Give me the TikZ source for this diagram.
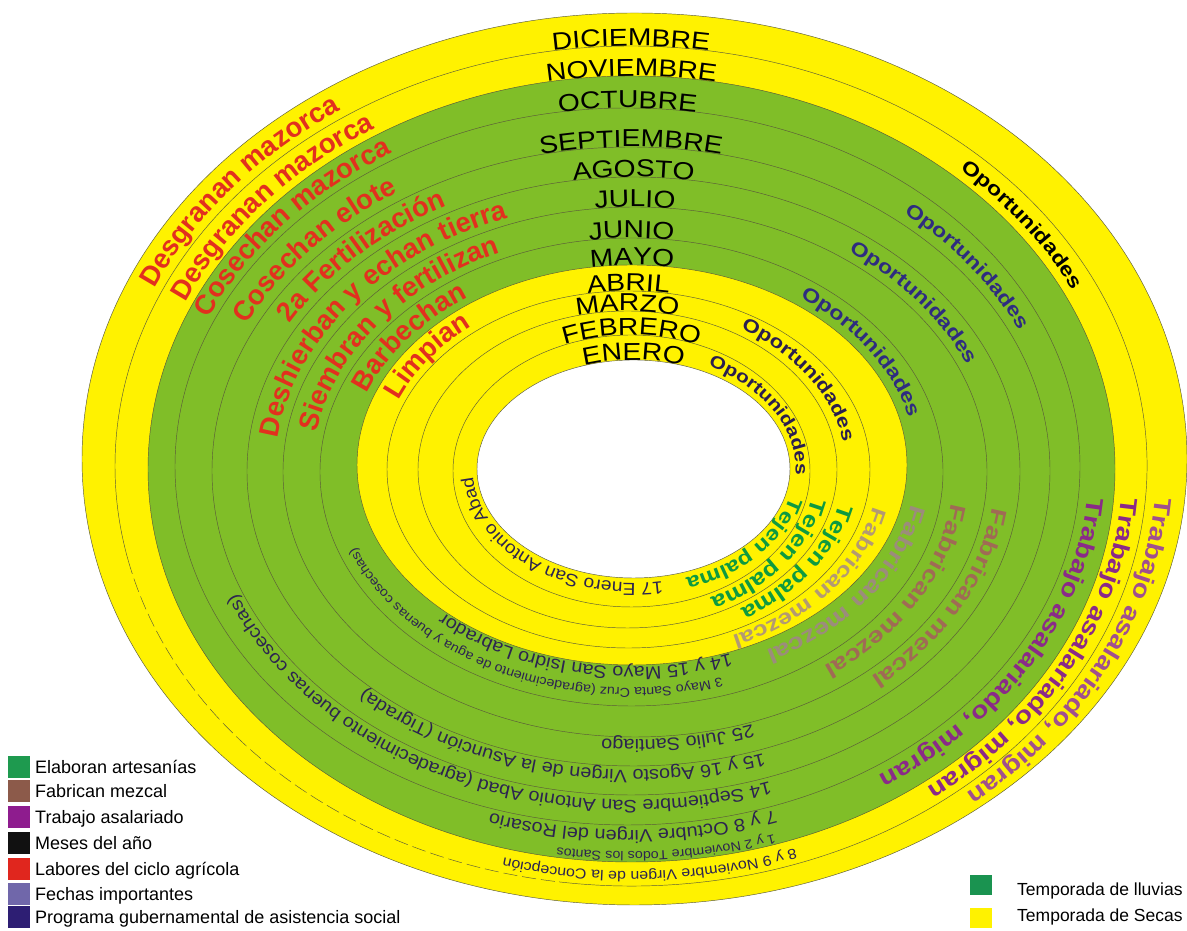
\documentclass[tikz,border=0pt]{standalone}
\usepackage{fontspec}
\setmainfont{Liberation Sans}
\usetikzlibrary{decorations.text}
\newfontfamily\fM{Liberation Sans}[FakeStretch=1.15]
\newfontfamily\fX{Liberation Sans}[FakeStretch=1.1]
\newfontfamily\fB{Liberation Sans}[FakeStretch=1.2]
\newfontfamily\fW{Liberation Sans}[FakeStretch=1.25]
\definecolor{ylw}{HTML}{FFF200}
\definecolor{grn}{HTML}{80BE28}
\definecolor{ringc}{HTML}{5A5A3A}
\definecolor{labred}{HTML}{E2301E}
\definecolor{opdark}{HTML}{2A1E50}
\definecolor{opnavy}{HTML}{2E2C80}
\definecolor{palma}{HTML}{0E9A40}
\definecolor{mezA}{HTML}{B39A72}
\definecolor{mezB}{HTML}{9C8C7C}
\definecolor{mezC}{HTML}{A06A55}
\definecolor{trabA}{HTML}{8A2A88}
\definecolor{trabB}{HTML}{A0508E}
\definecolor{fecha}{HTML}{2C2450}
\definecolor{lgA}{HTML}{1E9A4F}
\definecolor{lgB}{HTML}{8C5A4A}
\definecolor{lgC}{HTML}{8E1C8E}
\definecolor{lgD}{HTML}{111111}
\definecolor{lgE}{HTML}{E0261E}
\definecolor{lgF}{HTML}{7067AA}
\definecolor{lgG}{HTML}{2D1E73}
\definecolor{lgR}{HTML}{1A9350}
% ring boundaries (image pixels): left, right, top, bottom for boundary 0..12
\def\myL{{477,453,418,387,357,320,283,247,212,175,148,115,82}}
\def\myR{{790,810,837,870,907,943,987,1020,1050,1080,1115,1147,1187}}
\def\myT{{360,335,311,291,265,238,207,177,147,108,76,46,13}}
\def\myB{{578,607,628,648,665,706,737,766,795,825,862,886,905}}
\newcommand\ellat[1]{%
  \pgfmathtruncatemacro\ei{max(0,min(floor(#1),11))}%
  \pgfmathtruncatemacro\ej{\ei+1}%
  \pgfmathsetmacro\ef{(#1)-\ei}%
  \pgfmathsetmacro\eL{\myL[\ei]+\ef*(\myL[\ej]-\myL[\ei])}%
  \pgfmathsetmacro\eR{\myR[\ei]+\ef*(\myR[\ej]-\myR[\ei])}%
  \pgfmathsetmacro\eT{\myT[\ei]+\ef*(\myT[\ej]-\myT[\ei])}%
  \pgfmathsetmacro\eB{\myB[\ei]+\ef*(\myB[\ej]-\myB[\ei])}%
  \pgfmathsetmacro\ecx{(\eL+\eR)/2}%
  \pgfmathsetmacro\ecy{(\eT+\eB)/2}%
  \pgfmathsetmacro\ea{(\eR-\eL)/2}%
  \pgfmathsetmacro\eb{(\eB-\eT)/2}%
}
% text centred on an elliptic arc from angle #2 down to angle #3
\newcommand\arctext[5]{%
  \ellat{#1}%
  \pgfmathsetmacro\sx{\ecx+\ea*cos(#2)}%
  \pgfmathsetmacro\sy{931-\ecy+\eb*sin(#2)}%
  \path[decorate,decoration={text along path,text align=center,text={|#4|#5}}]
    (\sx,\sy) arc[start angle=#2,end angle=#3,x radius=\ea pt,y radius=\eb pt];
}
% ring arc between two angles, with a given style
\newcommand\ringarc[4]{%
  \ellat{#1}%
  \pgfmathsetmacro\sx{\ecx+\ea*cos(#2)}%
  \pgfmathsetmacro\sy{931-\ecy+\eb*sin(#2)}%
  \draw[ringc,line width=0.45pt,#4] (\sx,\sy) arc[start angle=#2,end angle=#3,x radius=\ea pt,y radius=\eb pt];
}
% text centred between two image points, extended by equal arc lengths
\newcommand\ptext[7]{%
  \ellat{#1}%
  \pgfmathsetmacro\tP{atan2((\ecy-(#3))/\eb,((#2)-\ecx)/\ea)}%
  \pgfmathsetmacro\tQ{atan2((\ecy-(#5))/\eb,((#4)-\ecx)/\ea)}%
  \pgfmathsetmacro\tQ{\tQ>\tP ? \tQ-360 : \tQ}%
  \pgfmathsetmacro\rb{\eb/\ea}%
  \pgfmathsetmacro\vP{\ea*sqrt(sin(\tP)^2+(\rb*cos(\tP))^2)}%
  \pgfmathsetmacro\vQ{\ea*sqrt(sin(\tQ)^2+(\rb*cos(\tQ))^2)}%
  \pgfmathsetmacro\tS{\tP+80/\vP*57.2958}%
  \pgfmathsetmacro\tE{\tQ-80/\vQ*57.2958}%
  \arctext{#1}{\tS}{\tE}{#6}{#7}%
}
\newcommand\FMon{\fM\fontsize{24.5}{24.5}\selectfont\color{black}}
\newcommand\FRed{\bfseries\fontsize{27.5}{27.5}\selectfont\color{labred}}
\newcommand\FOpA{\fB\bfseries\fontsize{17.5}{17.5}\selectfont\color{opdark}}
\newcommand\FOpB{\fB\bfseries\fontsize{18.5}{18.5}\selectfont\color{opdark}}
\newcommand\FOpC{\fB\bfseries\fontsize{19.5}{19.5}\selectfont\color{opnavy}}
\newcommand\FOpD{\fB\bfseries\fontsize{19.5}{19.5}\selectfont\color{black}}
\newcommand\FPalA{\fB\bfseries\fontsize{20}{20}\selectfont\color{palma}}
\newcommand\FPal{\fB\bfseries\fontsize{21.5}{21.5}\selectfont\color{palma}}
\newcommand\FMzA{\fW\bfseries\fontsize{20.5}{20.5}\selectfont\color{mezA}}
\newcommand\FMzB{\fW\bfseries\fontsize{22}{22}\selectfont\color{mezB}}
\newcommand\FMzC{\fW\bfseries\fontsize{22}{22}\selectfont\color{mezC}}
\newcommand\FTrA{\fB\bfseries\fontsize{23.75}{23.75}\selectfont\color{trabA}}
\newcommand\FTrB{\fB\bfseries\fontsize{23.75}{23.75}\selectfont\color{trabB}}
\newcommand\FDat{\fX\fontsize{18}{18}\selectfont\color{fecha}}
\newcommand\FDatA{\fX\fontsize{17.5}{17.5}\selectfont\color{fecha}}
\newcommand\FDsm{\fX\fontsize{13}{13}\selectfont\color{fecha}}
\newcommand\FDmd{\fX\fontsize{14.5}{14.5}\selectfont\color{fecha}}
\newcommand\legsq[4]{%
  \fill[#2] (8,931-#3-11) rectangle (30,931-#3+11);
  \node[anchor=base west,font=\fontsize{18}{18}\selectfont,inner sep=0pt] (#1) at (35,931-#3-6.5) {#4};
}
\begin{document}
\begin{tikzpicture}[x=1pt,y=1pt]
\useasboundingbox (0,0) rectangle (1187,931);
\fill[white] (0,0) rectangle (1187,931);
% season fills
\ellat{12}\fill[ylw] (\ecx,931-\ecy) ellipse[x radius=\ea pt,y radius=\eb pt];
\ellat{10}\fill[grn] (\ecx,931-\ecy) ellipse[x radius=\ea pt,y radius=\eb pt];
\ellat{4}\fill[ylw] (\ecx,931-\ecy) ellipse[x radius=\ea pt,y radius=\eb pt];
\ellat{0}\fill[white] (\ecx,931-\ecy) ellipse[x radius=\ea pt,y radius=\eb pt];
% month ring lines
\foreach \i in {0,...,10,12}{%
  \ellat{\i}\draw[ringc,line width=0.45pt] (\ecx,931-\ecy) ellipse[x radius=\ea pt,y radius=\eb pt];
}
\ringarc{11}{262}{553}{}
\ringarc{11}{193}{262}{dash pattern=on 14pt off 5pt}
% months
\arctext{0}{130}{50}{\FMon}{ENERO}
\arctext{1}{130}{50}{\FMon}{FEBRERO}
\arctext{2}{130}{50}{\FMon}{MARZO}
\arctext{3}{130}{50}{\FMon}{ABRIL}
\arctext{4}{130}{50}{\FMon}{MAYO}
\arctext{5}{130}{50}{\FMon}{JUNIO}
\arctext{6}{130}{50}{\FMon}{JULIO}
\arctext{7}{130}{50}{\FMon}{AGOSTO}
\arctext{8}{130}{50}{\FMon}{SEPTIEMBRE}
\arctext{9}{130}{50}{\FMon}{OCTUBRE}
\arctext{10}{130}{50}{\FMon}{NOVIEMBRE}
\arctext{11}{130}{50}{\FMon}{DICIEMBRE}
% agricultural labours
\ptext{11.22}{143}{297}{348}{105}{\FRed}{Desgranan mazorca}
\ptext{10.22}{173}{310}{380}{120}{\FRed}{Desgranan mazorca}
\ptext{9.22}{207}{310}{380}{153}{\FRed}{Cosechan mazorca}
\ptext{8.22}{237}{333}{400}{183}{\FRed}{Cosechan elote}
\ptext{7.22}{287}{320}{437}{203}{\FRed}{2a Fertilización}
\ptext{6.22}{267}{450}{517}{210}{\FRed}{Deshierban y echan tierra}
\ptext{5.22}{303}{443}{507}{243}{\FRed}{Siembran y fertilizan}
\ptext{4.22}{353}{400}{470}{293}{\FRed}{Barbechan}
\ptext{3.22}{387}{407}{470}{320}{\FRed}{Limpian}
% Oportunidades
\ptext{0.28}{723}{357}{817}{467}{\FOpA}{Oportunidades}
\ptext{2.28}{753}{323}{862}{437}{\FOpB}{Oportunidades}
\ptext{4.28}{812}{287}{933}{417}{\FOpC}{Oportunidades}
\ptext{6.28}{850}{245}{977}{370}{\FOpC}{Oportunidades}
\ptext{8.28}{910}{205}{1028}{333}{\FOpC}{Oportunidades}
\ptext{10.28}{963}{167}{1080}{290}{\FOpD}{Oportunidades}
% crafts
\ptext{0.22}{800}{497}{692}{589}{\FPalA}{Tejen palma}
\ptext{1.22}{828}{507}{724}{601}{\FPal}{Tejen palma}
\ptext{2.22}{855}{512}{756}{612}{\FPal}{Tejen palma}
% mezcal
\ptext{3.25}{886}{509}{746}{653}{\FMzA}{Fabrican mezcal}
\ptext{4.25}{924}{497}{773}{673}{\FMzB}{Fabrican mezcal}
\ptext{5.25}{958}{493}{828}{683}{\FMzC}{Fabrican mezcal}
\ptext{6.25}{999}{498}{879}{694}{\FMzC}{Fabrican mezcal}
% wage labour
\ptext{9.25}{1088}{495}{886}{786}{\FTrA}{Trabajo asalariado, migran}
\ptext{10.25}{1124}{493}{934}{800}{\FTrA}{Trabajo asalariado, migran}
\ptext{11.25}{1157}{495}{979}{807}{\FTrB}{Trabajo asalariado, migran}
% important dates
\ptext{0.17}{660}{597}{455}{489}{\FDatA}{17 Enero San Antonio Abad}
\ptext{4.05}{740}{672}{435}{618}{\FDat}{14 y 15 Mayo San Isidro Labrador}
\ptext{4.56}{715}{692}{358}{557}{\FDsm}{3 Mayo Santa Cruz (agradecimiento de agua y buenas cosechas)}
\ptext{6.1}{759}{742}{602}{753}{\FDat}{25 Julio Santiago}
\ptext{7.14}{770}{773}{357}{697}{\FDat}{15 y 16 Agosto Virgen de la Asunción (Tigrada)}
\ptext{8.17}{774}{800}{225}{600}{\FDat}{14 Septiembre San Antonio Abad (agradecimiento buenas cosechas)}
\ptext{9.14}{780}{828}{487}{828}{\FDat}{7 y 8 Octubre Virgen del Rosario}
\ptext{9.73}{782}{847}{554}{853}{\FDsm}{1 y 2 Noviembre Todos los Santos}
\ptext{10.4}{797}{860}{502}{873}{\FDmd}{8 y 9 Noviembre Virgen de la Concepción}
% legend left
\legsq{lgartes}{lgA}{767}{Elaboran artesanías}
\legsq{lgmez}{lgB}{791}{Fabrican mezcal}
\legsq{lgtrab}{lgC}{817}{Trabajo asalariado}
\legsq{lgmes}{lgD}{843}{Meses del año}
\legsq{lglab}{lgE}{869}{Labores del ciclo agrícola}
\legsq{lgfec}{lgF}{894}{Fechas importantes}
\legsq{lgprog}{lgG}{917}{Programa gubernamental de asistencia social}
% legend right
\fill[lgR] (970,931-875) rectangle (992,931-895);
\fill[ylw] (970,931-908) rectangle (992,931-928);
\node[anchor=base west,font=\fontsize{17.5}{17.5}\selectfont,inner sep=0pt] (lluv) at (1017,931-896) {Temporada de lluvias};
\node[anchor=base west,font=\fontsize{17.5}{17.5}\selectfont,inner sep=0pt] (secas) at (1017,931-922) {Temporada de Secas};
\end{tikzpicture}
\end{document}
